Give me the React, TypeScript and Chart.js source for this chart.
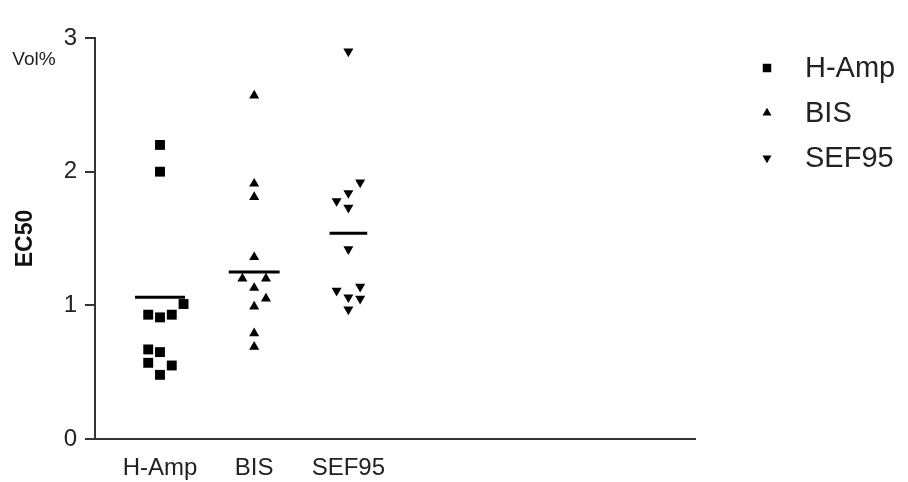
import React, { useEffect, useRef } from 'react';
import { Chart, registerables } from 'chart.js';

Chart.register(...registerables);

// ---- data ----
const categories = ['H-Amp', 'BIS', 'SEF95'];
const hAmpValues = [2.2, 2.0, 1.01, 0.93, 0.91, 0.93, 0.67, 0.65, 0.57, 0.55, 0.48];
const hAmpColumns = [0, 0, 2, -1, 0, 1, -1, 0, -1, 1, 0];
const bisValues = [2.57, 1.91, 1.81, 1.36, 1.2, 1.2, 1.13, 1.05, 0.99, 0.79, 0.69];
const bisColumns = [0, 0, 0, 0, -1, 1, 0, 1, 0, 0, 0];
const sefValues = [2.9, 1.92, 1.84, 1.78, 1.73, 1.42, 1.14, 1.11, 1.06, 1.05, 0.97];
const sefColumns = [0, 1, 0, -1, 0, 0, 1, -1, 0, 1, 0];
const meanValues = [1.06, 1.25, 1.54];
const meanHalfWidths = [0.265, 0.27, 0.2];
const yTicks = [0, 1, 2, 3];
const yUnit = 'Vol%';
const yTitle = 'EC50';

const JITTER = 0.125;
const FONT = "'Liberation Sans', Arial, sans-serif";
const TEXT = '#222';
const AXIS = '#333';

const groups = [
  { label: categories[0], values: hAmpValues, cols: hAmpColumns, style: 'rect', radius: 7, rotation: 0 },
  { label: categories[1], values: bisValues, cols: bisColumns, style: 'triangle', radius: 5.8, rotation: 0 },
  { label: categories[2], values: sefValues, cols: sefColumns, style: 'triangle', radius: 5.8, rotation: 180 },
];

function drawMarker(ctx: CanvasRenderingContext2D, style: string, r: number, rot: number, x: number, y: number) {
  ctx.save();
  ctx.fillStyle = '#000';
  ctx.translate(x, y);
  ctx.rotate((rot * Math.PI) / 180);
  ctx.beginPath();
  if (style === 'rect') {
    const s = Math.SQRT1_2 * r;
    ctx.rect(-s, -s, 2 * s, 2 * s);
  } else {
    const a = (2 * Math.PI) / 3;
    for (let i = 0; i < 3; i++) {
      const ang = -Math.PI / 2 + i * a;
      const px = Math.cos(ang) * r;
      const py = Math.sin(ang) * r;
      if (i === 0) ctx.moveTo(px, py);
      else ctx.lineTo(px, py);
    }
    ctx.closePath();
  }
  ctx.fill();
  ctx.restore();
}

const extrasPlugin = {
  id: 'extras',
  afterDraw(chart: any) {
    const ctx: CanvasRenderingContext2D = chart.ctx;
    const area = chart.chartArea;
    ctx.save();
    // unit label near the top of the y axis
    ctx.fillStyle = TEXT;
    ctx.font = `19px ${FONT}`;
    ctx.textAlign = 'center';
    ctx.textBaseline = 'middle';
    ctx.fillText(yUnit, 34, area.top + 22);
    // legend
    ctx.font = `29px ${FONT}`;
    ctx.textAlign = 'left';
    groups.forEach((g, i) => {
      const y = area.top + 30 + i * 45;
      drawMarker(ctx, g.style, i === 0 ? 6 : 5.2, g.rotation, area.right + 72, y);
      ctx.fillStyle = TEXT;
      ctx.fillText(g.label, area.right + 110, y + 1);
    });
    ctx.restore();
  },
};

export default function App() {
  const ref = useRef<HTMLCanvasElement | null>(null);

  useEffect(() => {
    document.body.style.margin = '0';
    if (!ref.current) return;

    const scatterSets = groups.map((g, gi) => ({
      type: 'scatter' as const,
      label: g.label,
      data: g.values.map((v, i) => ({ x: gi + 1 + g.cols[i] * JITTER, y: v })),
      pointStyle: g.style,
      pointRadius: g.radius,
      pointRotation: g.rotation,
      backgroundColor: '#000',
      borderColor: '#000',
      borderWidth: 0,
      pointHoverRadius: g.radius,
    }));

    const meanSets = meanValues.map((m, gi) => ({
      type: 'line' as const,
      label: `${categories[gi]} mean`,
      data: [
        { x: gi + 1 - meanHalfWidths[gi], y: m },
        { x: gi + 1 + meanHalfWidths[gi], y: m },
      ],
      borderColor: '#000',
      borderWidth: 3,
      pointRadius: 0,
      showLine: true,
      fill: false,
    }));

    const chart = new Chart(ref.current, {
      type: 'scatter',
      data: { datasets: [...scatterSets, ...meanSets] as any },
      plugins: [extrasPlugin],
      options: {
        animation: false,
        responsive: false,
        devicePixelRatio: 1,
        layout: { padding: { top: 38, right: 213, left: 0, bottom: 0 } },
        plugins: { legend: { display: false }, tooltip: { enabled: false } },
        scales: {
          x: {
            type: 'linear',
            min: 0.31,
            max: 6.68,
            afterBuildTicks: (s: any) => {
              s.ticks = categories.map((_, i) => ({ value: i + 1 }));
            },
            afterFit: (s: any) => {
              s.height = 43;
            },
            ticks: {
              callback: (v: any) => categories[Number(v) - 1] ?? '',
              font: { family: FONT, size: 24 },
              color: TEXT,
              padding: 15,
              maxRotation: 0,
              autoSkip: false,
            },
            grid: { display: false, drawTicks: false },
            border: { display: true, color: AXIS, width: 2 },
          },
          y: {
            type: 'linear',
            min: 0,
            max: 3,
            afterBuildTicks: (s: any) => {
              s.ticks = yTicks.map((v) => ({ value: v }));
            },
            afterFit: (s: any) => {
              s.width = 95;
            },
            ticks: {
              font: { family: FONT, size: 24 },
              color: TEXT,
              padding: 8,
            },
            grid: {
              display: true,
              drawOnChartArea: false,
              drawTicks: true,
              tickLength: 10,
              color: AXIS,
              lineWidth: 2,
            },
            border: { display: true, color: AXIS, width: 2 },
            title: {
              display: true,
              text: yTitle,
              font: { family: FONT, size: 23, weight: 'bold' },
              color: '#111',
              padding: { top: 12, bottom: 0 },
            },
          },
        },
      } as any,
    });
    return () => chart.destroy();
  }, []);

  return <canvas ref={ref} width={908} height={482} style={{ display: 'block' }} />;
}
